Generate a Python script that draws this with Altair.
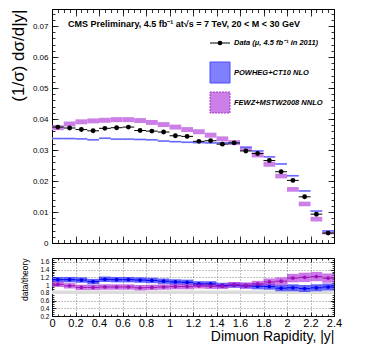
import altair as alt
import pandas as pd

# ---------------- data ----------------
bin_lo = [0.0, 0.1, 0.2, 0.3, 0.4, 0.5, 0.6, 0.7, 0.8, 0.9, 1.0, 1.1,
          1.2, 1.3, 1.4, 1.5, 1.6, 1.7, 1.8, 1.9, 2.0, 2.1, 2.2, 2.3]
bin_hi = [0.1, 0.2, 0.3, 0.4, 0.5, 0.6, 0.7, 0.8, 0.9, 1.0, 1.1, 1.2,
          1.3, 1.4, 1.5, 1.6, 1.7, 1.8, 1.9, 2.0, 2.1, 2.2, 2.3, 2.4]

data_xsec = [0.0374, 0.0371, 0.0366, 0.0362, 0.0370, 0.0372, 0.0374, 0.0363,
             0.0361, 0.0358, 0.0346, 0.0344, 0.0328, 0.0330, 0.0319, 0.0323,
             0.0297, 0.0289, 0.0266, 0.0230, 0.0202, 0.0149, 0.0093, 0.0032]
data_err = [0.0002, 0.0002, 0.0002, 0.0002, 0.0002, 0.0002, 0.0002, 0.0002,
            0.0002, 0.0002, 0.0002, 0.0002, 0.0003, 0.0003, 0.0003, 0.0003,
            0.0003, 0.0003, 0.0004, 0.0004, 0.0004, 0.0004, 0.0004, 0.0003]

powheg = [0.0337, 0.0337, 0.0336, 0.0333, 0.0338, 0.0335, 0.0335, 0.0334,
          0.0333, 0.0329, 0.0327, 0.0325, 0.0324, 0.0323, 0.0323, 0.0322,
          0.0308, 0.0297, 0.0278, 0.0255, 0.0217, 0.0168, 0.0103, 0.0039]
powheg_err = [0.0002, 0.0002, 0.0002, 0.0002, 0.0002, 0.0002, 0.0002, 0.0002,
              0.0002, 0.0002, 0.0002, 0.0002, 0.0002, 0.0002, 0.0002, 0.0002,
              0.0002, 0.0002, 0.0002, 0.0002, 0.0002, 0.0002, 0.0002, 0.0002]

fewz = [0.0372, 0.0384, 0.0391, 0.0394, 0.0396, 0.0398, 0.0398, 0.0395,
        0.0389, 0.0382, 0.0374, 0.0366, 0.0359, 0.0348, 0.0336, 0.0324,
        0.0305, 0.0284, 0.0254, 0.0216, 0.0173, 0.0126, 0.0077, 0.0033]
fewz_err = [0.0008, 0.0008, 0.0008, 0.0008, 0.0008, 0.0008, 0.0008, 0.0008,
            0.0008, 0.0008, 0.0008, 0.0008, 0.0008, 0.0008, 0.0008, 0.0008,
            0.0008, 0.0008, 0.0008, 0.00075, 0.00075, 0.00075, 0.00075, 0.0005]

ratio_powheg = [1.14, 1.14, 1.13, 1.09, 1.15, 1.14, 1.14, 1.13, 1.12, 1.10, 1.08, 1.07,
                1.03, 1.03, 0.99, 1.00, 0.98, 0.97, 0.96, 0.92, 0.93, 0.91, 0.93, 0.95]
ratio_powheg_err = [0.07, 0.07, 0.07, 0.07, 0.07, 0.07, 0.07, 0.07, 0.07, 0.07, 0.07, 0.07,
                    0.07, 0.07, 0.07, 0.07, 0.07, 0.08, 0.08, 0.08, 0.09, 0.09, 0.09, 0.09]
ratio_fewz = [1.02, 0.98, 0.94, 0.94, 0.95, 0.95, 0.95, 0.93, 0.94, 0.95, 0.96, 0.96,
              0.98, 0.97, 0.97, 1.01, 0.99, 1.03, 1.08, 1.10, 1.18, 1.20, 1.22, 1.18]
ratio_fewz_err = [0.07, 0.07, 0.07, 0.07, 0.07, 0.07, 0.07, 0.07, 0.07, 0.07, 0.07, 0.07,
                  0.07, 0.07, 0.07, 0.07, 0.08, 0.08, 0.09, 0.10, 0.11, 0.12, 0.12, 0.12]

grey_band = [0.77, 0.86]

x_major = [0.0, 0.2, 0.4, 0.6, 0.8, 1.0, 1.2, 1.4, 1.6, 1.8, 2.0, 2.2, 2.4]
x_minor = [round(0.05 * i, 2) for i in range(49)]
ym_major = [0.0, 0.01, 0.02, 0.03, 0.04, 0.05, 0.06, 0.07]
ym_minor = [round(0.002 * i, 3) for i in range(38)]
yr_major = [0.2, 0.4, 0.6, 0.8, 1.0, 1.2, 1.4, 1.6]
yr_minor = [round(0.2 + 0.05 * i, 2) for i in range(31)]

title_text = "CMS Preliminary, 4.5 fb\u207b\u00b9 at\u221as = 7 TeV, 20 < M < 30 GeV"
leg_data = "Data (\u03bc, 4.5 fb\u207b\u00b9 in 2011)"
leg_pow = "POWHEG+CT10 NLO"
leg_fewz = "FEWZ+MSTW2008 NNLO"

# ---------------- table ----------------
df = pd.DataFrame({
    "lo": bin_lo, "hi": bin_hi,
    "data": data_xsec, "derr": data_err,
    "pow": powheg, "perr": powheg_err,
    "fewz": fewz, "ferr": fewz_err,
    "rp": ratio_powheg, "rperr": ratio_powheg_err,
    "rf": ratio_fewz, "rferr": ratio_fewz_err,
})
df["mid"] = (df["lo"] + df["hi"]) / 2
df["d_lo"] = df["data"] - df["derr"]
df["d_hi"] = df["data"] + df["derr"]
df["p_lo"] = df["pow"] - df["perr"] - 0.0001
df["p_hi"] = df["pow"] + df["perr"] + 0.0001
df["f_lo"] = df["fewz"] - df["ferr"]
df["f_hi"] = df["fewz"] + df["ferr"]
df["rp_lo"] = df["rp"] - df["rperr"]
df["rp_hi"] = df["rp"] + df["rperr"]
df["rf_lo"] = df["rf"] - df["rferr"]
df["rf_hi"] = df["rf"] + df["rferr"]

band_df = pd.DataFrame({"x0": [bin_lo[0]], "x1": [bin_hi[-1]],
                        "y0": [grey_band[0]], "y1": [grey_band[1]]})

FONT = "Liberation Sans"
W = 282
HM = 234
HR = 58
MAG = "#cc7fe6"
BLUE_HALO = "#bcbcff"
BLUE_LINE = "#6262ff"

xs = alt.Scale(domain=[0, 2.4], nice=False, zero=False)
ysm = alt.Scale(domain=[0, 0.0755], nice=False, zero=False)
ysr = alt.Scale(domain=[0.2, 1.7], nice=False, zero=False)


def tick_axis(orient, values, size):
    return alt.Axis(orient=orient, values=values, tickSize={"expr": str(-size)},
                    labels=False, domain=False, grid=False, title=None,
                    tickColor="black", tickWidth=0.8)


base = alt.Chart(df)

# ---------------- main panel ----------------
y_main_axis = alt.Axis(orient="left", values=ym_major, ticks=False, domain=False,
                       labels=True, labelFont=FONT, labelFontSize=8, labelPadding=4,
                       labelColor="black", labelFlush=False, format=".2~f",
                       title="(1/\u03c3) d\u03c3/d|y|", titleFont=FONT, titleFontSize=17,
                       titleFontWeight="normal", titleColor="black", titleAnchor="end",
                       titlePadding=5, grid=False)

m_fewz = base.mark_rect(color=MAG).encode(
    x=alt.X("lo:Q", scale=xs, axis=None), x2="hi:Q",
    y=alt.Y("f_lo:Q", scale=ysm, axis=y_main_axis), y2="f_hi:Q")
m_halo = base.mark_rect(color=BLUE_HALO).encode(
    x=alt.X("lo:Q", scale=xs, axis=tick_axis("bottom", x_major, 7)), x2="hi:Q",
    y=alt.Y("p_lo:Q", scale=ysm, axis=tick_axis("left", ym_major, 6)), y2="p_hi:Q")
m_pline = base.mark_rule(color=BLUE_LINE, strokeWidth=1.3).encode(
    x=alt.X("lo:Q", scale=xs, axis=tick_axis("bottom", x_minor, 3.5)), x2="hi:Q",
    y=alt.Y("pow:Q", scale=ysm, axis=tick_axis("left", ym_minor, 3)))
m_hbar = base.mark_rule(color="black", strokeWidth=1).encode(
    x=alt.X("lo:Q", scale=xs, axis=tick_axis("top", x_major, 7)), x2="hi:Q",
    y=alt.Y("data:Q", scale=ysm, axis=tick_axis("right", ym_major, 6)))
m_vbar = base.mark_rule(color="black", strokeWidth=1).encode(
    x=alt.X("mid:Q", scale=xs, axis=tick_axis("top", x_minor, 3.5)),
    y=alt.Y("d_lo:Q", scale=ysm, axis=tick_axis("right", ym_minor, 3)), y2="d_hi:Q")
m_pts = base.mark_circle(color="black", size=24, opacity=1).encode(
    x=alt.X("mid:Q", scale=xs, axis=None),
    y=alt.Y("data:Q", scale=ysm, axis=None))

one = pd.DataFrame({"t": [title_text], "ld": [leg_data], "lp": [leg_pow], "lf": [leg_fewz]})
ann = alt.Chart(one)
t_title = ann.mark_text(align="left", baseline="middle", font=FONT, fontSize=9,
                        fontWeight="bold", color="black").encode(
    x=alt.value(16), y=alt.value(15), text="t:N")
leg_line = ann.mark_rule(color="black", strokeWidth=1).encode(
    x=alt.value(158), x2=alt.value(178), y=alt.value(34))
leg_dot = ann.mark_circle(color="black", size=22, opacity=1).encode(
    x=alt.value(168), y=alt.value(34))
leg_t1 = ann.mark_text(align="left", baseline="middle", font=FONT, fontSize=7.5,
                       fontWeight="bold", fontStyle="italic", color="black").encode(
    x=alt.value(182), y=alt.value(34), text="ld:N")
leg_box1 = ann.mark_rect(fill="#8080ff", stroke="#4a4aff", strokeWidth=1).encode(
    x=alt.value(158), x2=alt.value(178), y=alt.value(53), y2=alt.value(74))
leg_t2 = ann.mark_text(align="left", baseline="middle", font=FONT, fontSize=7.5,
                       fontWeight="bold", fontStyle="italic", color="black").encode(
    x=alt.value(182), y=alt.value(63.5), text="lp:N")
leg_box2 = ann.mark_rect(fill=MAG, stroke="#a23cc4", strokeWidth=1, strokeDash=[2, 1]).encode(
    x=alt.value(158), x2=alt.value(178), y=alt.value(83), y2=alt.value(104))
leg_t3 = ann.mark_text(align="left", baseline="middle", font=FONT, fontSize=7.5,
                       fontWeight="bold", fontStyle="italic", color="black").encode(
    x=alt.value(182), y=alt.value(93.5), text="lf:N")

main = alt.layer(
    m_fewz, m_halo, m_pline, m_hbar, m_vbar, m_pts,
    t_title, leg_line, leg_dot, leg_t1, leg_box1, leg_t2, leg_box2, leg_t3
).resolve_axis(x="independent", y="independent").properties(width=W, height=HM)

# ---------------- ratio panel ----------------
x_ratio_axis = alt.Axis(orient="bottom", values=x_major, ticks=False, domain=False,
                        labels=True, labelFont=FONT, labelFontSize=11, labelPadding=1,
                        labelColor="black", labelFlush=False, format=".1~f",
                        title="Dimuon Rapidity, |y|", titleFont=FONT, titleFontSize=14,
                        titleFontWeight="normal", titleColor="black", titleAnchor="end",
                        titlePadding=1, grid=True, gridDash=[1, 2], gridColor="#555555",
                        gridWidth=0.7)
y_ratio_axis = alt.Axis(orient="left", values=yr_major, ticks=False, domain=False,
                        labels=True, labelFont=FONT, labelFontSize=6.5, labelPadding=3,
                        labelColor="black", labelFlush=False, format=".1~f",
                        title="data/theory", titleFont=FONT, titleFontSize=8.5,
                        titleFontWeight="normal", titleColor="black", titleAnchor="end",
                        titlePadding=10, grid=True, gridDash=[1, 2], gridColor="#555555",
                        gridWidth=0.7)

r_grey = alt.Chart(band_df).mark_rect(color="#dcdcdc").encode(
    x=alt.X("x0:Q", scale=xs, axis=x_ratio_axis), x2="x1:Q",
    y=alt.Y("y0:Q", scale=ysr, axis=y_ratio_axis), y2="y1:Q")
r_pband = base.mark_rect(color="#3030ff", opacity=0.75).encode(
    x=alt.X("lo:Q", scale=xs, axis=tick_axis("bottom", x_major, 4)), x2="hi:Q",
    y=alt.Y("rp_lo:Q", scale=ysr, axis=tick_axis("left", yr_major, 4)), y2="rp_hi:Q")
r_fband = base.mark_rect(color="#b63fdc", opacity=0.7).encode(
    x=alt.X("lo:Q", scale=xs, axis=tick_axis("bottom", x_minor, 2)), x2="hi:Q",
    y=alt.Y("rf_lo:Q", scale=ysr, axis=tick_axis("left", yr_minor, 2)), y2="rf_hi:Q")
r_pbar = base.mark_rule(color="#0000ee", strokeWidth=1).encode(
    x=alt.X("lo:Q", scale=xs, axis=tick_axis("top", x_major, 4)), x2="hi:Q",
    y=alt.Y("rp:Q", scale=ysr, axis=tick_axis("right", yr_major, 4)))
r_fbar = base.mark_rule(color="#9a12b8", strokeWidth=1).encode(
    x=alt.X("lo:Q", scale=xs, axis=tick_axis("top", x_minor, 2)), x2="hi:Q",
    y=alt.Y("rf:Q", scale=ysr, axis=tick_axis("right", yr_minor, 2)))
r_ppts = base.mark_circle(color="#0000ee", size=14, opacity=1).encode(
    x=alt.X("mid:Q", scale=xs, axis=None), y=alt.Y("rp:Q", scale=ysr, axis=None))
r_fpts = base.mark_circle(color="#9a12b8", size=14, opacity=1).encode(
    x=alt.X("mid:Q", scale=xs, axis=None), y=alt.Y("rf:Q", scale=ysr, axis=None))

ratio = alt.layer(
    r_grey, r_pband, r_fband, r_pbar, r_fbar, r_ppts, r_fpts
).resolve_axis(x="independent", y="independent").properties(width=W, height=HR)

chart = alt.vconcat(main, ratio, spacing=9).properties(
    padding={"left": 0, "top": 0, "right": 5, "bottom": 5},
    background="white",
).configure_view(stroke="black", strokeWidth=1)

chart.save("out.html", embed_options={"renderer": "svg", "actions": False})
